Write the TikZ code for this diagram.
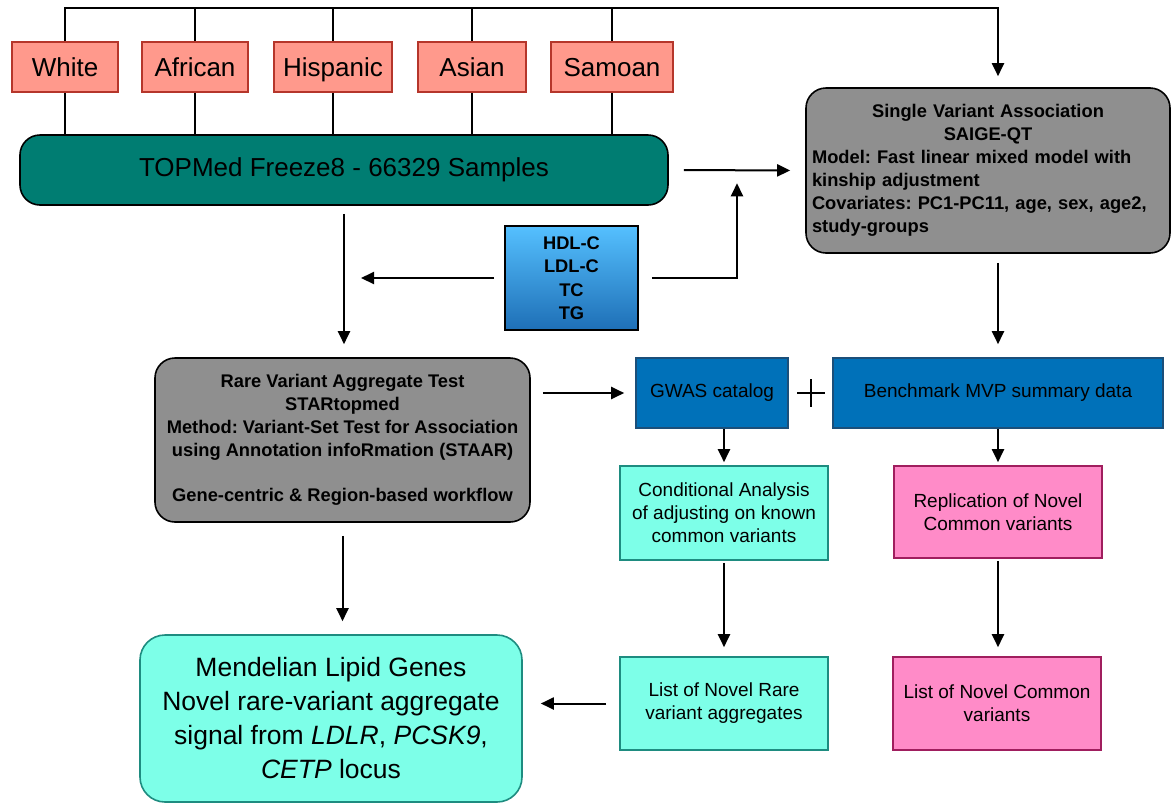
\documentclass[tikz,border=0pt]{standalone}
\usepackage{fontspec}
\setmainfont{Liberation Sans}
\usepackage{xcolor}
\usetikzlibrary{arrows.meta,calc}
\frenchspacing
\definecolor{popfill}{HTML}{FF998C}
\definecolor{popline}{HTML}{B5362B}
\definecolor{tealfill}{HTML}{007D72}
\definecolor{panelgray}{HTML}{8F8F8F}
\definecolor{traittop}{HTML}{55C0FF}
\definecolor{traitbot}{HTML}{1E6FB6}
\definecolor{catblue}{HTML}{0071B9}
\definecolor{catline}{HTML}{1B4F7A}
\definecolor{aqua}{HTML}{7DFFE8}
\definecolor{aqualine}{HTML}{1E8C80}
\definecolor{pinkfill}{HTML}{FF8BC8}
\definecolor{pinkline}{HTML}{A01E5E}
\begin{document}
\begin{tikzpicture}[
    x                  = 1pt,
    y                  = -1pt,
    line width         = 1.6pt,
    every node/.style  = {inner sep=0pt, align=center},
    popbox/.style      = {draw=popline, fill=popfill, minimum height=50pt,
                          text height=22pt, text depth=3.4pt,
                          font=\fontsize{26}{30}\selectfont},
    cohort/.style      = {draw, fill=tealfill, rounded corners=20pt,
                          minimum width=648pt, minimum height=70pt,
                          font=\fontsize{26}{30}\selectfont},
    panel/.style       = {draw, fill=panelgray, rounded corners=20pt,
                          font=\bfseries\fontsize{18.3}{23}\selectfont},
    traitbox/.style    = {draw, top color=traittop, bottom color=traitbot,
                          minimum width=133pt, minimum height=104pt,
                          font=\bfseries\fontsize{18.3}{23.5}\selectfont},
    catalog/.style     = {draw=catline, fill=catblue, minimum height=70pt,
                          font=\fontsize{19}{23}\selectfont},
    rarebox/.style     = {draw=aqualine, fill=aqua, minimum width=208pt,
                          font=\fontsize{19}{23}\selectfont},
    commonbox/.style   = {draw=pinkline, fill=pinkfill, minimum width=208pt,
                          font=\fontsize{19}{23}\selectfont},
    flow/.style        = {draw, line width=2pt, -{Triangle[length=13pt,width=12pt]},
                          shorten <=12pt, shorten >=12pt}
  ]
\useasboundingbox (0,0) rectangle (1172,804);

\node[popbox, minimum width=106pt] (white)    at (65,67)  {White};
\node[popbox, minimum width=106pt] (african)  at (195,67) {African};
\node[popbox, minimum width=118pt] (hispanic) at (333,67) {Hispanic};
\node[popbox, minimum width=108pt] (asian)    at (472,67) {Asian};
\node[popbox, minimum width=122pt] (samoan)   at (612,67) {Samoan};

\node[cohort] (topmed) at (344,170) {TOPMed Freeze8 - 66329 Samples};

\node[panel, minimum width=364pt, minimum height=165pt, text width=352pt, align=left] (single) at (988,170.5)
  {\makebox[352pt]{Single Variant Association}\\ \makebox[352pt]{SAIGE-QT}\\
   Model: Fast linear mixed model with\\ kinship adjustment\\
   Covariates: PC1-PC11, age, sex, age2,\\ study-groups};

\node[traitbox] (traits) at (571.5,278) {HDL-C\\ LDL-C\\ TC\\ TG};

\node[panel, minimum width=375pt, minimum height=164pt] (rare) at (342.5,440)
  {Rare Variant Aggregate Test\\ STARtopmed\\ Method: Variant-Set Test for Association\\
   using Annotation infoRmation (STAAR)\\[22pt] Gene-centric \& Region-based workflow};

\node[catalog, minimum width=152pt] (gwas)  at (712,393) {GWAS catalog};
\node[minimum size=26pt] (plus) at (811,393) {};
\node[catalog, minimum width=330pt] (bench) at (998,393) {Benchmark MVP summary data};

\node[rarebox, minimum height=94pt]   (cond)   at (724,513)   {Conditional Analysis\\ of adjusting on known\\ common variants};
\node[commonbox, minimum height=92pt] (repl)   at (998,512)   {Replication of Novel\\ Common variants};
\node[rarebox, minimum height=93pt]   (novrare)   at (724,703.5) {List of Novel Rare\\ variant aggregates};
\node[commonbox, minimum height=93pt] (novcommon) at (997,703.5) {List of Novel Common\\ variants};

\node[draw=aqualine, fill=aqua, rounded corners=25pt, minimum width=382pt, minimum height=167pt,
      font=\fontsize{26.5}{34}\selectfont] (mendel) at (331,718.5)
  {Mendelian Lipid Genes\\ Novel rare-variant aggregate\\
   signal from \textit{LDLR}, \textit{PCSK9},\\ \textit{CETP} locus};

% the plus between the two catalogues
\draw (plus.north) -- (plus.south) (plus.west) -- (plus.east);

% cohorts into TOPMed and to the top rail
\coordinate (rail) at (0,8);
\foreach \p in {white,african,hispanic,asian,samoan}
  \draw (\p.south) -- (\p.south |- topmed.north);
\foreach \p in {african,hispanic,asian,samoan}
  \draw (\p.north) -- (\p.north |- rail);
\draw[flow, shorten <=0pt, shorten >=11pt] (white.north) |- (rail -| bench.north) -- (bench.north |- single.north);

\draw[flow, shorten <=15pt, shorten >=15pt] (topmed.east) -- (single.west);
\draw[flow, shorten <=8pt, shorten >=13pt] (topmed.south) -- (topmed.south |- rare.north);
\draw[flow, shorten <=10pt, shorten >=17pt] (traits.west) -- (traits.west -| topmed.south);
\draw[flow, shorten <=13pt, shorten >=13pt] (traits.east) -| ($(topmed.east)!.5!(single.west)$);
\draw[flow, shorten <=9pt, shorten >=13pt] (bench.north |- single.south) -- (bench.north);

\draw[flow, shorten >=11pt] (rare.east |- gwas.west) -- (gwas.west);
\draw[flow, shorten <=0pt, shorten >=3pt] (cond.north |- gwas.south) -- (cond.north);
\draw[flow, shorten <=0pt, shorten >=3pt] (bench.south) -- (repl.north);
\draw[flow, shorten <=2pt, shorten >=9pt] (cond.south) -- (novrare.north);
\draw[flow, shorten <=2pt, shorten >=9pt] (repl.south) -- (novcommon.north -| repl.south);
\draw[flow, shorten <=13pt, shorten >=18pt] (novrare.west) -- (novrare.west -| mendel.east);
\draw[flow, shorten <=13pt, shorten >=13pt] (rare.south) -- (rare.south |- mendel.north);
\end{tikzpicture}
\end{document}
